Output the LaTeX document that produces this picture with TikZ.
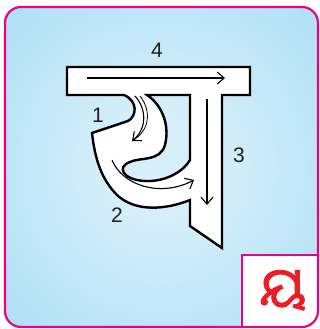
\documentclass[tikz,border=0pt]{standalone}
\usepackage{fontspec}
\setmainfont{Liberation Sans}
\newfontfamily\oriyafont[Script=Oriya,FakeBold=1.5]{Noto Sans Oriya UI}
\usetikzlibrary{arrows.meta}
\definecolor{bgin}{HTML}{D6EFFA}
\definecolor{bgout}{HTML}{99D8F4}
\definecolor{frame}{HTML}{E6057F}
\definecolor{odred}{HTML}{EE1C25}
\definecolor{digit}{HTML}{231F20}
\pgfdeclareradialshading{bgshade}{\pgfpoint{0bp}{0bp}}{color(0bp)=(bgin); color(8bp)=(bgin); color(50bp)=(bgout); color(100bp)=(bgout)}
\tikzset{
  lbl/.style={text=digit, font=\fontsize{21}{21}\selectfont, inner sep=0pt},
  guide/.style={draw=black, line width=1.1pt, -{Straight Barb[length=7pt,width=12pt,line width=1.1pt]}},
  guideplain/.style={draw=black, line width=0.8pt},
  letterline/.style={draw=black, fill=white, line width=2.4pt, line join=miter, even odd rule}
}
\begin{document}
\begin{tikzpicture}[x=1pt,y=-1pt]
\useasboundingbox (0,0) rectangle (320,329);
\fill[white] (0,0) rectangle (320,329);
% background panel
\shade[shading=bgshade, rounded corners=16pt] (5,7) rectangle (318,327);
% small box at bottom right
\begin{scope}
  \clip[rounded corners=16pt] (5,7) rectangle (318,327);
  \fill[white] (242,255) rectangle (320,329);
\end{scope}
\draw[frame, line width=2pt] (242,328) -- (242,255) -- (318,255);
\draw[frame, line width=2.2pt, rounded corners=16pt] (5,7) rectangle (318,327);
% letter outline
\path[letterline]
  (67,67) -- (250,67) -- (250,95) -- (222,95) -- (222,248) -- (190,226) -- (190,200)
  .. controls (165,210) and (135,212) .. (117,195)
  .. controls (102,180) and (95,160) .. (92,133)
  -- (128,121)
  .. controls (137,116) and (138,101) .. (124,95)
  -- (67,95) -- cycle
  (147,95) -- (190,95) -- (190,160)
  .. controls (183,172) and (165,182) .. (145,181)
  .. controls (123,180) and (116,167) .. (130,162)
  .. controls (140,157) and (160,162) .. (165,145)
  .. controls (170,125) and (162,105) .. (147,95) -- cycle;
% stroke guides
\coordinate (a4s) at (87,78);
\coordinate (a4e) at (225,78);
\draw[guide] (a4s) -- (a4e);
\coordinate (a3s) at (207,99);
\coordinate (a3e) at (207,205);
\draw[guide] (a3s) -- (a3e);
\coordinate (a1s) at (135,96);
\coordinate (a1b) at (140,96);
\coordinate (a1e) at (132,141);
\draw[guideplain] (a1b) .. controls (151,110) and (151,130) .. (a1e);
\draw[guide] (a1s) .. controls (146,108) and (148,128) .. (a1e);
\coordinate (a2s) at (112,160);
\coordinate (a2e) at (194,180);
\draw[guide] (a2s) .. controls (122,185) and (160,198) .. (a2e);
% labels
\node[lbl] (n4) at (157,50) {4};
\node[lbl] (n1) at (98,115) {1};
\node[lbl] (n3) at (239,155) {3};
\node[lbl] (n2) at (117,215) {2};
% Odia letter
\node[text=odred, inner sep=0pt, font=\oriyafont\fontsize{55}{55}\selectfont] (od) at (283,291) {ୟ};
\end{tikzpicture}
\end{document}
